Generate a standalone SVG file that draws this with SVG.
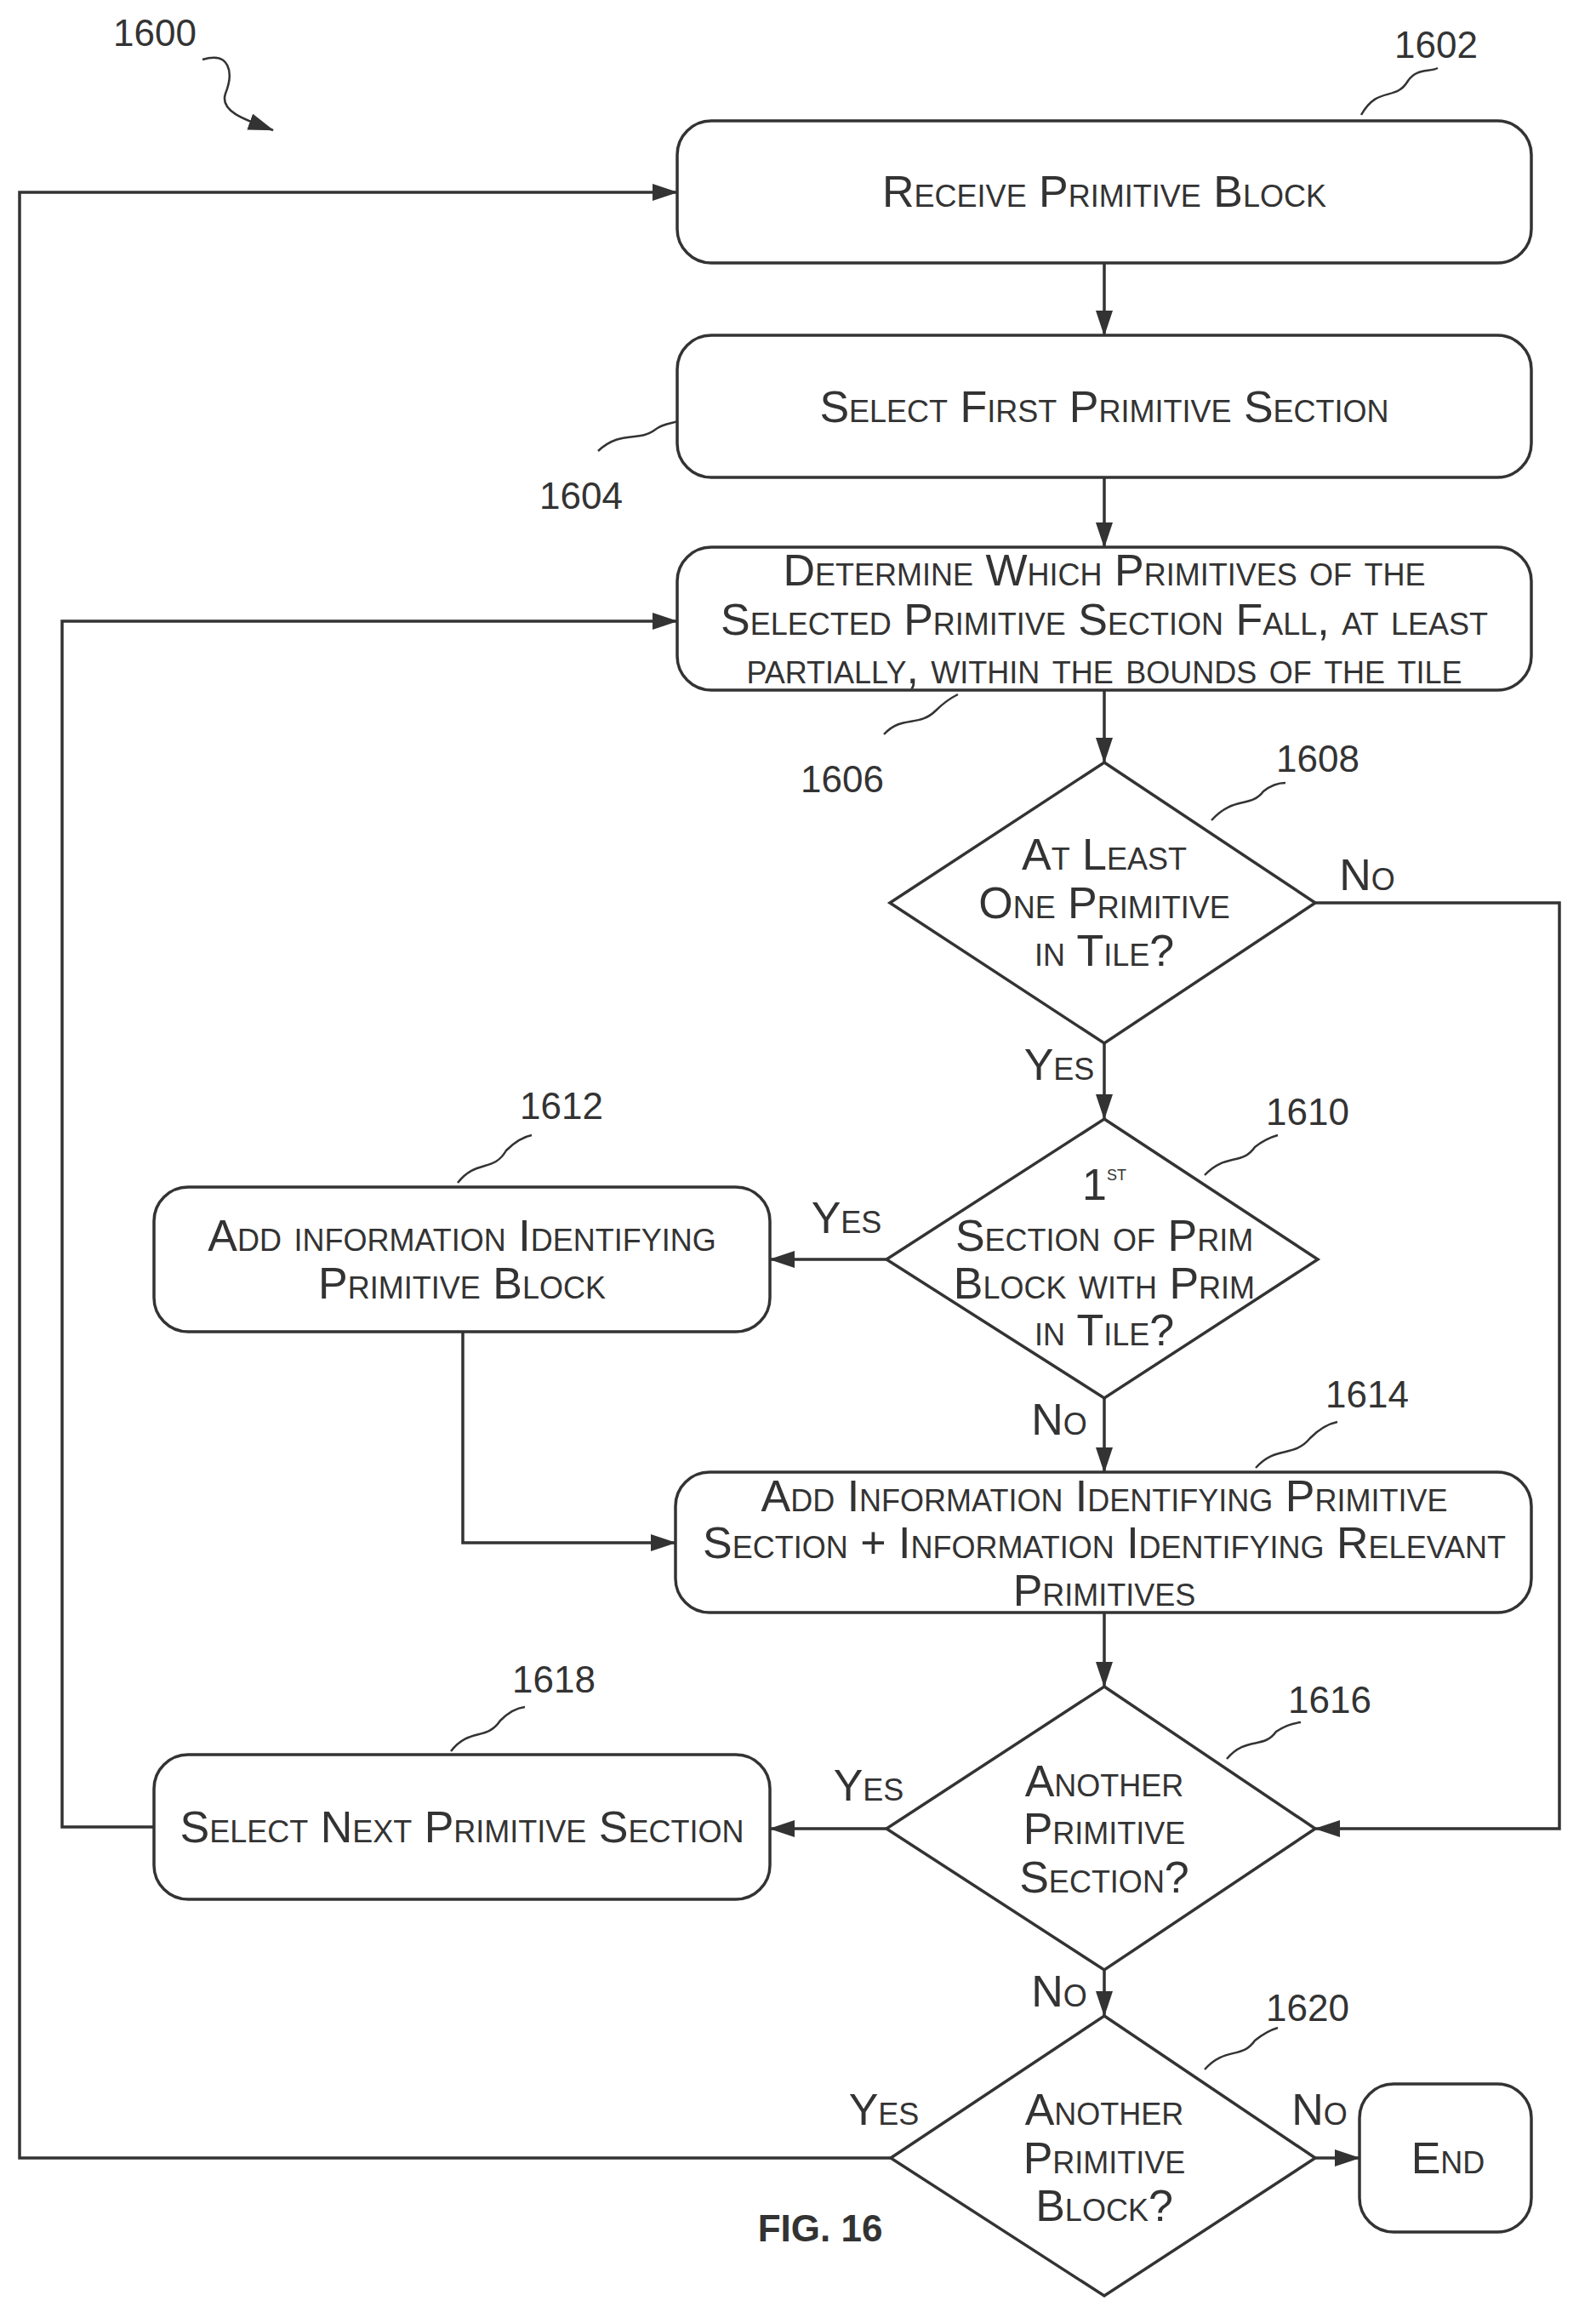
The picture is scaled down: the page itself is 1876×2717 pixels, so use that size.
<svg xmlns="http://www.w3.org/2000/svg" width="1876" height="2717" viewBox="0 0 1876 2717">
<style>
.n{fill:#fff;stroke:#333;stroke-width:3.5}
.t{font-family:"Liberation Sans",Arial,sans-serif;font-size:52px;font-variant:small-caps;fill:#333;text-anchor:middle;dominant-baseline:central}
.l{font-family:"Liberation Sans",Arial,sans-serif;font-size:44px;fill:#333;text-anchor:middle;dominant-baseline:central}
.c{fill:none;stroke:#333;stroke-width:3.5}
.q{fill:none;stroke:#333;stroke-width:2.5}
</style>
<defs>
<marker id="b" markerWidth="30" markerHeight="20" refX="29" refY="10" orient="auto" markerUnits="userSpaceOnUse" viewBox="0 0 30 20"><path d="M0,0L30,10L0,20z" fill="#333"/></marker></defs>
<g id="connectors">
<path class="c" marker-end="url(#b)" d="M1298,309V394"/>
<path class="c" marker-end="url(#b)" d="M1298,561V643"/>
<path class="c" marker-end="url(#b)" d="M1298,811V896"/>
<path class="c" marker-end="url(#b)" d="M1298,1226V1315"/>
<path class="c" marker-end="url(#b)" d="M1042,1480H905"/>
<path class="c" marker-end="url(#b)" d="M1298,1643V1730"/>
<path class="c" marker-end="url(#b)" d="M544,1565V1813H794"/>
<path class="c" marker-end="url(#b)" d="M1298,1895V1982"/>
<path class="c" marker-end="url(#b)" d="M1546,1061H1833V2149H1546"/>
<path class="c" marker-end="url(#b)" d="M1042,2149H905"/>
<path class="c" marker-end="url(#b)" d="M181,2147H73V730H796"/>
<path class="c" marker-end="url(#b)" d="M1298,2315V2369"/>
<path class="c" marker-end="url(#b)" d="M1546,2536H1598"/>
<path class="c" marker-end="url(#b)" d="M1047,2536H23V226H796"/>
</g>
<g id="leaders">
<path class="q" marker-end="url(#b)" d="M238,70C270,60 275,85 265,110C258,130 285,140 321,153"/>
<path class="q" d="M1600,135C1620,100 1640,120 1655,95C1665,80 1680,85 1690,80"/>
<path class="q" d="M703,530C730,505 750,520 770,505C780,497 790,498 796,495"/>
<path class="q" d="M1039,863C1060,840 1080,855 1100,835C1110,825 1118,820 1126,816"/>
<path class="q" d="M1424,964C1450,935 1470,950 1485,930C1495,922 1505,920 1511,920"/>
<path class="q" d="M1416,1381C1440,1355 1460,1370 1475,1348C1485,1340 1495,1336 1502,1334"/>
<path class="q" d="M538,1390C560,1362 580,1378 595,1352C605,1342 615,1336 625,1334"/>
<path class="q" d="M1476,1725C1500,1698 1520,1714 1540,1690C1550,1680 1562,1673 1572,1671"/>
<path class="q" d="M1442,2067C1465,2040 1485,2056 1500,2035C1510,2028 1520,2025 1529,2024"/>
<path class="q" d="M530,2058C552,2030 572,2046 588,2022C598,2012 608,2007 617,2006"/>
<path class="q" d="M1416,2432C1440,2405 1460,2420 1475,2398C1485,2390 1495,2385 1502,2383"/>
</g>
<g id="n1602"><rect class="n" x="796" y="142" width="1004" height="167" rx="40"/><text class="t" x="1298" y="225">Receive Primitive Block</text></g>
<g id="n1604"><rect class="n" x="796" y="394" width="1004" height="167" rx="40"/><text class="t" x="1298" y="478">Select First Primitive Section</text></g>
<g id="n1606"><rect class="n" x="796" y="643" width="1004" height="168" rx="40"/><text class="t" x="1298" y="670">Determine Which Primitives of the</text><text class="t" x="1298" y="728">Selected Primitive Section Fall, at least</text><text class="t" x="1298" y="785">partially, within the bounds of the tile</text></g>
<g id="n1608"><path class="n" d="M1298,896L1546,1061L1298,1226L1046,1061z"/><text class="t" x="1298" y="1004">At Least</text><text class="t" x="1298" y="1061">One Primitive</text><text class="t" x="1298" y="1117">in Tile?</text></g>
<g id="n1610"><path class="n" d="M1298,1315L1549,1480L1298,1643L1042,1480z"/><text class="t" x="1298" y="1392">1<tspan font-size="26" dy="-14">st</tspan></text><text class="t" x="1298" y="1452">Section of Prim</text><text class="t" x="1298" y="1508">Block with Prim</text><text class="t" x="1298" y="1563">in Tile?</text></g>
<g id="n1612"><rect class="n" x="181" y="1395" width="724" height="170" rx="40"/><text class="t" x="543" y="1452">Add information Identifying</text><text class="t" x="543" y="1508">Primitive Block</text></g>
<g id="n1614"><rect class="n" x="794" y="1730" width="1006" height="165" rx="40"/><text class="t" x="1298" y="1758">Add Information Identifying Primitive</text><text class="t" x="1298" y="1813">Section + Information Identifying Relevant</text><text class="t" x="1298" y="1869">Primitives</text></g>
<g id="n1616"><path class="n" d="M1298,1982L1546,2149L1298,2315L1042,2149z"/><text class="t" x="1298" y="2093">Another</text><text class="t" x="1298" y="2149">Primitive</text><text class="t" x="1298" y="2206">Section?</text></g>
<g id="n1618"><rect class="n" x="181" y="2062" width="724" height="170" rx="40"/><text class="t" x="543" y="2147">Select Next Primitive Section</text></g>
<g id="n1620"><path class="n" d="M1298,2369L1546,2536L1298,2698L1047,2536z"/><text class="t" x="1298" y="2479">Another</text><text class="t" x="1298" y="2536">Primitive</text><text class="t" x="1298" y="2592">Block?</text></g>
<g id="nEnd"><rect class="n" x="1598" y="2449" width="202" height="174" rx="40"/><text class="t" x="1702" y="2536">End</text></g>
<g id="labels">
<text class="l" x="182" y="38">1600</text><text class="l" x="1688" y="52">1602</text><text class="l" x="683" y="582">1604</text><text class="l" x="990" y="915">1606</text><text class="l" x="1549" y="891">1608</text><text class="l" x="1537" y="1306">1610</text><text class="l" x="660" y="1299">1612</text><text class="l" x="1607" y="1638">1614</text><text class="l" x="1563" y="1997">1616</text><text class="l" x="651" y="1973">1618</text><text class="l" x="1537" y="2359">1620</text>
<text class="t" x="1607" y="1028">No</text><text class="t" x="1245" y="1251">Yes</text><text class="t" x="995" y="1431">Yes</text><text class="t" x="1245" y="1668">No</text><text class="t" x="1021" y="2098">Yes</text><text class="t" x="1245" y="2340">No</text><text class="t" x="1039" y="2479">Yes</text><text class="t" x="1551" y="2479">No</text>
<text class="l" x="964" y="2618" font-weight="bold" font-size="46">FIG. 16</text>
</g>
</svg>
